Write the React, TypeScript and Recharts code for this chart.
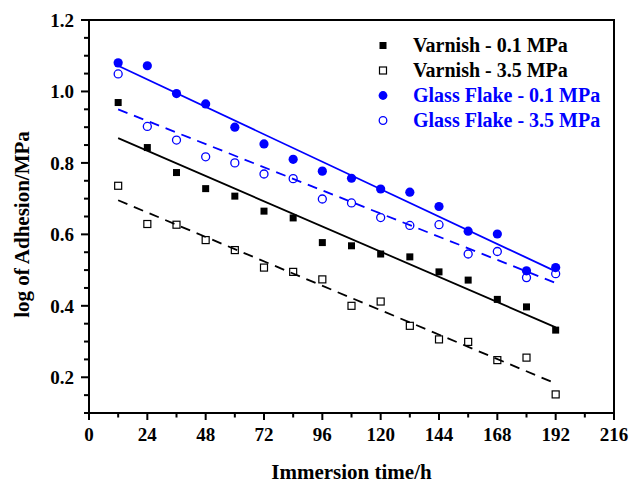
import React from "react";
import {
  ScatterChart,
  Scatter,
  XAxis,
  YAxis,
  Legend,
  Label,
} from "recharts";

const times = [12, 24, 36, 48, 60, 72, 84, 96, 108, 120, 132, 144, 156, 168, 180, 192];
const varnish01 = [0.969, 0.843, 0.773, 0.728, 0.707, 0.665, 0.646, 0.577, 0.568, 0.545, 0.537, 0.495, 0.472, 0.418, 0.397, 0.332];
const varnish35 = [0.736, 0.629, 0.627, 0.584, 0.556, 0.507, 0.495, 0.474, 0.4, 0.412, 0.344, 0.306, 0.299, 0.248, 0.255, 0.152];
const glass01 = [1.08, 1.072, 0.994, 0.965, 0.9, 0.853, 0.81, 0.777, 0.757, 0.727, 0.718, 0.678, 0.609, 0.601, 0.498, 0.507];
const glass35 = [1.049, 0.902, 0.864, 0.817, 0.8, 0.769, 0.756, 0.699, 0.688, 0.647, 0.625, 0.627, 0.545, 0.552, 0.479, 0.49];

const xTicks = [0, 12, 24, 36, 48, 60, 72, 84, 96, 108, 120, 132, 144, 156, 168, 180, 192, 204, 216];
const yTicks = [0.1, 0.15, 0.2, 0.25, 0.3, 0.35, 0.4, 0.45, 0.5, 0.55, 0.6, 0.65, 0.7, 0.75, 0.8, 0.85, 0.9, 0.95, 1.0, 1.05, 1.1, 1.15, 1.2];

const BLUE = "#0000ff";
const FONT = '"Liberation Serif", "Times New Roman", serif';

const toPoints = (vals: number[]) => times.map((t, i) => ({ t, v: vals[i] }));

const filledSquare = (p: any) => <rect x={p.cx - 3.5} y={p.cy - 3.5} width={7} height={7} fill="#000" />;
const openSquare = (p: any) => (
  <rect x={p.cx - 3.5} y={p.cy - 3.5} width={7} height={7} fill="none" stroke="#000" strokeWidth={1.2} />
);
const filledCircle = (p: any) => <circle cx={p.cx} cy={p.cy} r={4.6} fill={BLUE} />;
const openCircle = (p: any) => <circle cx={p.cx} cy={p.cy} r={4} fill="none" stroke={BLUE} strokeWidth={1.3} />;

const XTick = (props: any) => {
  const { x, y, payload } = props;
  const major = payload.value % 24 === 0;
  return (
    <g>
      <rect x={x - 1} y={y} width={2} height={major ? 7 : 4.5} fill="#000" />
      {major && (
        <text x={x} y={y + 28} textAnchor="middle" fontFamily={FONT} fontWeight="bold" fontSize={19} fill="#000">
          {payload.value}
        </text>
      )}
    </g>
  );
};

const YTick = (props: any) => {
  const { x, y, payload } = props;
  const major = Math.round(payload.value * 100) % 20 === 0;
  const len = major ? 8 : 5;
  return (
    <g>
      <rect x={x - len} y={y - 1} width={len} height={2} fill="#000" />
      {major && (
        <text x={x - 15} y={y + 7} textAnchor="end" fontFamily={FONT} fontWeight="bold" fontSize={19} fill="#000">
          {payload.value.toFixed(1)}
        </text>
      )}
    </g>
  );
};

const legendRows = [
  { name: "Varnish - 0.1 MPa", color: "#000", marker: <rect x={4.5} y={5} width={7} height={7} fill="#000" /> },
  { name: "Varnish - 3.5 MPa", color: "#000", marker: <rect x={4.5} y={5} width={7} height={7} fill="none" stroke="#000" strokeWidth={1.2} /> },
  { name: "Glass Flake - 0.1 MPa", color: BLUE, marker: <circle cx={8} cy={8.5} r={4.4} fill={BLUE} /> },
  { name: "Glass Flake - 3.5 MPa", color: BLUE, marker: <circle cx={8} cy={8.5} r={3.8} fill="none" stroke={BLUE} strokeWidth={1.3} /> },
];

const renderLegend = () => (
  <div style={{ fontFamily: FONT, fontWeight: "bold", fontSize: 20 }}>
    {legendRows.map((r) => (
      <div key={r.name} style={{ display: "flex", alignItems: "center", height: 25, color: r.color, whiteSpace: "nowrap" }}>
        <svg width={16} height={17} style={{ marginRight: 22 }}>
          {r.marker}
        </svg>
        <span>{r.name}</span>
      </div>
    ))}
  </div>
);

const frameLine = { stroke: "#000", strokeWidth: 2 };

export default function App() {
  return (
    <div style={{ position: "absolute", left: 0, top: 0, width: 630, height: 484, background: "#fff" }}>
      <ScatterChart width={630} height={484} margin={{ top: 20, right: 16, left: 0, bottom: 0 }}>
        <XAxis
          type="number"
          dataKey="t"
          domain={[0, 216]}
          ticks={xTicks}
          interval={0}
          height={71}
          tickSize={0}
          tickMargin={0}
          tick={<XTick />}
          tickLine={false}
          axisLine={frameLine}
        >
          <Label
            content={({ viewBox }: any) => (
              <text
                x={viewBox.x + viewBox.width / 2}
                y={viewBox.y + 66}
                textAnchor="middle"
                fontFamily={FONT}
                fontWeight="bold"
                fontSize={21}
                fill="#000"
              >
                Immersion time/h
              </text>
            )}
          />
        </XAxis>
        <YAxis
          type="number"
          dataKey="v"
          domain={[0.1, 1.2]}
          ticks={yTicks}
          interval={0}
          width={89}
          tickSize={0}
          tickMargin={0}
          tick={<YTick />}
          tickLine={false}
          axisLine={frameLine}
        >
          <Label
            content={({ viewBox }: any) => {
              const cx = 29;
              const cy = viewBox.y + viewBox.height / 2 + 8;
              return (
                <text
                  x={cx}
                  y={cy}
                  transform={`rotate(-90, ${cx}, ${cy})`}
                  textAnchor="middle"
                  fontFamily={FONT}
                  fontWeight="bold"
                  fontSize={21}
                  fill="#000"
                >
                  log of Adhesion/MPa
                </text>
              );
            }}
          />
        </YAxis>
        <Legend
          layout="vertical"
          align="center"
          verticalAlign="middle"
          content={renderLegend}
          wrapperStyle={{ left: 375, top: 33, width: 250, height: "auto", right: "auto", bottom: "auto" }}
        />
        <Scatter
          name="Varnish - 0.1 MPa"
          data={toPoints(varnish01)}
          fill="#000"
          shape={filledSquare}
          line={{ stroke: "#000", strokeWidth: 1.8 }}
          lineType="fitting"
          isAnimationActive={false}
        />
        <Scatter
          name="Varnish - 3.5 MPa"
          data={toPoints(varnish35)}
          fill="#000"
          shape={openSquare}
          line={{ stroke: "#000", strokeWidth: 1.8, strokeDasharray: "10 7" }}
          lineType="fitting"
          isAnimationActive={false}
        />
        <Scatter
          name="Glass Flake - 0.1 MPa"
          data={toPoints(glass01)}
          fill={BLUE}
          shape={filledCircle}
          line={{ stroke: BLUE, strokeWidth: 1.8 }}
          lineType="fitting"
          isAnimationActive={false}
        />
        <Scatter
          name="Glass Flake - 3.5 MPa"
          data={toPoints(glass35)}
          fill={BLUE}
          shape={openCircle}
          line={{ stroke: BLUE, strokeWidth: 1.8, strokeDasharray: "10 7" }}
          lineType="fitting"
          isAnimationActive={false}
        />
      </ScatterChart>
      {/* plot frame */}
      <div
        style={{
          position: "absolute",
          left: 88,
          top: 19,
          width: 527,
          height: 395,
          boxSizing: "border-box",
          border: "2px solid #000",
          pointerEvents: "none",
        }}
      />
    </div>
  );
}
